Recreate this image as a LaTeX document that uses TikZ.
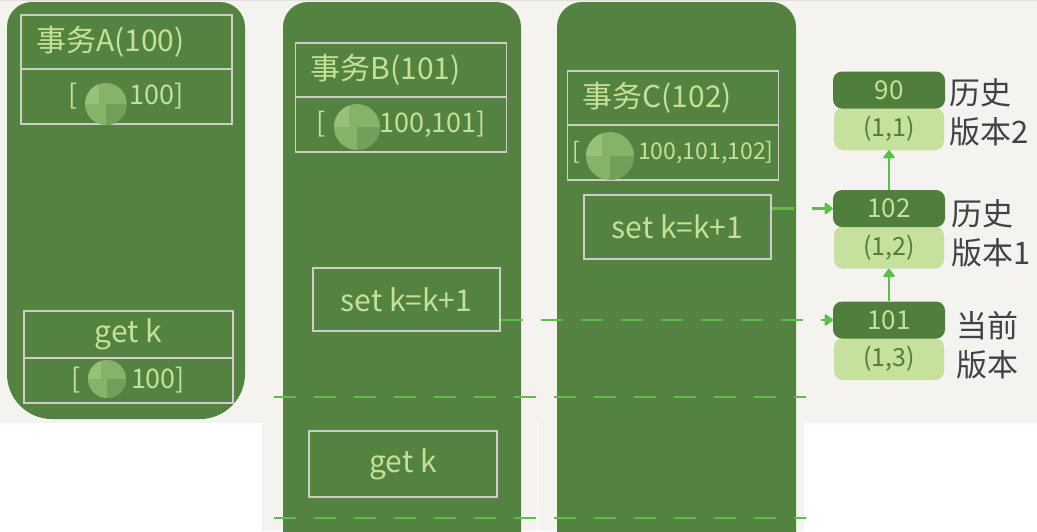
\documentclass[tikz,border=0pt]{standalone}
\usepackage{fontspec}
\setmainfont{Noto Sans CJK SC}
\usetikzlibrary{arrows.meta}
\usepackage{xcolor}
\definecolor{paperBeige}{RGB}{244,243,239}
\definecolor{colGreen}{RGB}{84,130,64}
\definecolor{chalkGreen}{RGB}{197,225,152}
\definecolor{boxGray}{RGB}{205,206,198}
\definecolor{verDark}{RGB}{80,126,60}
\definecolor{verLight}{RGB}{198,225,157}
\definecolor{lineGreen}{RGB}{94,190,74}
\definecolor{inkGray}{RGB}{60,68,70}
\definecolor{blurA}{RGB}{134,178,106}
\definecolor{blurB}{RGB}{114,160,90}
\definecolor{blurC}{RGB}{152,192,122}

\tikzset{
  colBox/.style={draw=boxGray, line width=1.6pt, text=chalkGreen, inner sep=0pt},
  titleBox/.style={colBox, text width=181pt, inner xsep=15pt, minimum height=54pt, align=left, font=\fontsize{30}{34}\selectfont},
  valBox/.style={colBox, minimum width=211pt, minimum height=55pt, font=\fontsize{27}{30}\selectfont},
  cmdBox/.style={colBox, minimum width=187pt, minimum height=64pt, font=\fontsize{30}{34}\selectfont},
  verTop/.style={fill=verDark, text=chalkGreen, rounded corners=9pt, minimum width=112pt, minimum height=37pt, font=\fontsize{26}{28}\selectfont},
  verBot/.style={fill=verLight, text=verDark, rounded corners=9pt, minimum width=110pt, minimum height=42pt, font=\fontsize{25}{28}\selectfont},
  verLabel/.style={text=inkGray, anchor=west, align=left, inner sep=0pt, font=\fontsize{31}{39}\selectfont},
  timeline/.style={draw=lineGreen, line width=2.5pt, dash pattern=on 22pt off 18pt},
  verArrow/.style={-{Triangle[round,length=9pt,width=13pt]}}
}

\begin{document}
\begin{tikzpicture}[x=1pt, y=-1pt]
  \useasboundingbox (0,0) rectangle (1037,531);
  % paper and the white corners below
  \fill[paperBeige] (0,0) rectangle (1037,531);
  \fill[white] (0,423) rectangle (262,531);
  \fill[white] (804,423) rectangle (1037,531);
  \draw[white, line width=1pt] (537,423) -- (537,531);
  \draw[boxGray!60, line width=1pt] (0,0.5) -- (1037,0.5);

  % the three transaction columns
  \fill[colGreen] (7,200) [rounded corners=25pt] -- (7,2) -- (245,2) -- (245,200)
    [rounded corners=45pt] -- (245,419) -- (7,419) -- cycle;
  \foreach \xl/\xr in {283/521, 557/796}
  {
    \fill[colGreen, rounded corners=25pt] (\xl,560) -- (\xl,2) -- (\xr,2) -- (\xr,560) -- cycle;
  }

  \node[titleBox] (titleA) at (126.5,42) {事务A(100)};
  \node[valBox] (viewA) at (126.5,96.5) {[\hspace{52pt}100]};
  \node[titleBox] (titleB) at (401,70) {事务B(101)};
  \node[valBox] (viewB) at (401,124.5) {[\hspace{54pt}100,101]};
  \node[titleBox] (titleC) at (673,98) {事务C(102)};
  \node[valBox, font=\fontsize{23}{26}\selectfont] (viewC) at (673,152.5) {[\hspace{58pt}100,101,102]};

  \node[cmdBox, minimum width=209pt, minimum height=47pt] (getA) at (128.5,334.5) {get k};
  \node[valBox, minimum width=209pt, minimum height=45pt] (readA) at (128.5,380.5) {[\hspace{50pt}100]};
  \node[cmdBox, minimum height=63pt] (setB) at (406.5,299.5) {set k=k+1};
  \node[cmdBox, minimum width=188pt, minimum height=66pt] (getB) at (403,464) {get k};
  \node[cmdBox] (setC) at (677.5,227) {set k=k+1};

  % blurred ids
  \foreach \bx/\by/\br in {106/104/21, 107/379/19, 357/127/23, 610/156/24}
  {
    \begin{scope}
      \clip (\bx,\by) circle (\br pt);
      \fill[blurA] (\bx-\br,\by-\br) rectangle (\bx+\br,\by+\br);
      \fill[blurB] (\bx,\by) rectangle (\bx+\br,\by+\br);
      \fill[blurC] (\bx-\br,\by-\br) rectangle (\bx-\br/3,\by);
    \end{scope}
  }

  % row versions
  \node[verBot] (v90b) at (889,129) {(1,1)};
  \node[verTop] (v90) at (889,90) {90};
  \node[verBot] (v102b) at (889,247.5) {(1,2)};
  \node[verTop] (v102) at (889,208.5) {102};
  \node[verBot] (v101b) at (889,359) {(1,3)};
  \node[verTop] (v101) at (889,320) {101};

  \node[verLabel] (lab90) at (949,112) {历史\\版本2};
  \node[verLabel] (lab102) at (951,233) {历史\\版本1};
  \node[verLabel] (lab101) at (956,345) {当前\\版本};

  \draw[lineGreen, line width=2pt, verArrow] (v102.north) -- (v90b.south);
  \draw[lineGreen, line width=2pt, verArrow] (v101.north) -- (v102b.south);

  % time lines
  \coordinate (t1a) at (274,397);
  \coordinate (t1b) at (806,397);
  \coordinate (t2a) at (274,518);
  \coordinate (t2b) at (806,518);
  \draw[timeline] (t1a) -- (t1b);
  \draw[timeline] (t2a) -- (t2b);
  \draw[timeline, verArrow] (setB.east |- v101.west) -- (v101.west);
  \draw[timeline, verArrow] (setC.east |- v102.west) -- (v102.west);
\end{tikzpicture}
\end{document}
